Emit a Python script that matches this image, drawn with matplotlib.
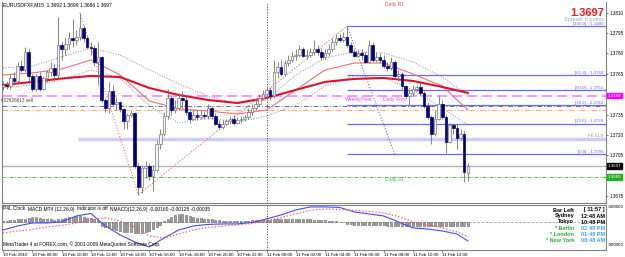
import matplotlib
matplotlib.use('Agg')
import matplotlib.pyplot as plt
import matplotlib.transforms as mtransforms
import numpy as np

plt.rcParams['font.family'] = ['Liberation Sans', 'DejaVu Sans']

# ---------------- data ----------------
symbol = "EURUSDFXF,M15"
opens = [1.3755,1.3757,1.3756,1.3762,1.3760,1.3771,1.3768,1.3781,1.3763,1.3754,
         1.3763,1.3754,1.3762,1.3766,1.3769,1.3764,1.3786,1.3783,1.3787,1.3791,
         1.3790,1.3792,1.3799,1.3791,1.3785,1.3784,1.3774,1.3777,1.3746,1.3740,
         1.3752,1.3743,1.3744,1.3739,1.3730,1.3735,1.3736,1.3697,1.3682,1.3696,
         1.3697,1.3690,1.3694,1.3713,1.3721,1.3734,1.3747,1.3738,1.3740,1.3747,
         1.3746,1.3737,1.3732,1.3735,1.3733,1.3735,1.3734,1.3740,1.3734,1.3728,
         1.3726,1.3728,1.3730,1.3732,1.3729,1.3731,1.3732,1.3733,1.3737,1.3740,
         1.3743,1.3747,1.3750,1.3753,1.3749,1.3766,1.3770,1.3765,1.3773,1.3775,
         1.3778,1.3779,1.3783,1.3778,1.3779,1.3781,1.3783,1.3781,1.3777,1.3780,
         1.3783,1.3788,1.3791,1.3790,1.3792,1.3786,1.3781,1.3778,1.3780,1.3779,
         1.3774,1.3786,1.3775,1.3777,1.3775,1.3771,1.3769,1.3774,1.3763,1.3765,
         1.3756,1.3749,1.3751,1.3754,1.3755,1.3751,1.3741,1.3733,1.3721,1.3732,
         1.3743,1.3733,1.3715,1.3727,1.3725,1.3718,1.3721,1.3692]
highs = [1.3760,1.3760,1.3765,1.3766,1.3774,1.3775,1.3785,1.3783,1.3765,1.3765,
         1.3766,1.3763,1.3768,1.3774,1.3772,1.3807,1.3788,1.3791,1.3796,1.3805,
         1.3797,1.3810,1.3801,1.3793,1.3788,1.3786,1.3788,1.3778,1.3747,1.3759,
         1.3757,1.3748,1.3745,1.3740,1.3736,1.3738,1.3737,1.3699,1.3698,1.3701,
         1.3699,1.3698,1.3716,1.3724,1.3737,1.3754,1.3749,1.3746,1.3751,1.3752,
         1.3749,1.3738,1.3738,1.3738,1.3738,1.3737,1.3743,1.3741,1.3736,1.3731,
         1.3731,1.3732,1.3734,1.3735,1.3733,1.3734,1.3735,1.3740,1.3743,1.3746,
         1.3750,1.3753,1.3756,1.3755,1.3775,1.3774,1.3775,1.3775,1.3779,1.3781,
         1.3783,1.3786,1.3785,1.3783,1.3784,1.3790,1.3786,1.3784,1.3783,1.3787,
         1.3791,1.3794,1.3794,1.3796,1.3800,1.3788,1.3783,1.3783,1.3783,1.3781,
         1.3790,1.3788,1.3781,1.3780,1.3779,1.3774,1.3777,1.3775,1.3768,1.3766,
         1.3757,1.3753,1.3757,1.3757,1.3760,1.3752,1.3744,1.3735,1.3738,1.3749,
         1.3746,1.3735,1.3729,1.3729,1.3728,1.3724,1.3723,1.3699]
lows = [1.3753,1.3754,1.3754,1.3757,1.3759,1.3766,1.3766,1.3760,1.3752,1.3752,
        1.3752,1.3753,1.3759,1.3763,1.3760,1.3762,1.3775,1.3779,1.3783,1.3785,
        1.3786,1.3790,1.3788,1.3783,1.3779,1.3771,1.3757,1.3744,1.3737,1.3736,
        1.3741,1.3738,1.3737,1.3724,1.3724,1.3733,1.3696,1.3676,1.3677,1.3688,
        1.3687,1.3679,1.3693,1.3710,1.3719,1.3732,1.3735,1.3736,1.3738,1.3740,
        1.3735,1.3729,1.3731,1.3731,1.3732,1.3732,1.3732,1.3732,1.3727,1.3724,
        1.3724,1.3727,1.3728,1.3727,1.3728,1.3729,1.3730,1.3732,1.3735,1.3738,
        1.3741,1.3746,1.3747,1.3746,1.3747,1.3762,1.3763,1.3763,1.3771,1.3774,
        1.3775,1.3777,1.3777,1.3776,1.3777,1.3779,1.3779,1.3775,1.3776,1.3778,
        1.3781,1.3786,1.3788,1.3788,1.3785,1.3780,1.3777,1.3777,1.3775,1.3773,
        1.3773,1.3774,1.3774,1.3773,1.3769,1.3767,1.3768,1.3761,1.3760,1.3754,
        1.3747,1.3742,1.3749,1.3752,1.3749,1.3740,1.3732,1.3713,1.3719,1.3731,
        1.3732,1.3707,1.3714,1.3721,1.3710,1.3716,1.3685,1.3686]
closes = [1.3757,1.3756,1.3762,1.3760,1.3771,1.3768,1.3781,1.3763,1.3754,1.3763,
          1.3754,1.3762,1.3766,1.3769,1.3764,1.3786,1.3783,1.3787,1.3791,1.3790,
          1.3792,1.3799,1.3791,1.3785,1.3784,1.3774,1.3777,1.3746,1.3740,1.3752,
          1.3743,1.3744,1.3739,1.3730,1.3735,1.3736,1.3697,1.3682,1.3696,1.3697,
          1.3690,1.3694,1.3713,1.3721,1.3734,1.3747,1.3738,1.3740,1.3747,1.3746,
          1.3737,1.3732,1.3735,1.3733,1.3735,1.3734,1.3740,1.3734,1.3728,1.3726,
          1.3728,1.3730,1.3732,1.3729,1.3731,1.3732,1.3733,1.3737,1.3740,1.3743,
          1.3747,1.3750,1.3753,1.3749,1.3766,1.3770,1.3765,1.3773,1.3775,1.3778,
          1.3779,1.3783,1.3778,1.3779,1.3781,1.3783,1.3781,1.3777,1.3780,1.3783,
          1.3788,1.3791,1.3790,1.3792,1.3786,1.3781,1.3778,1.3780,1.3779,1.3774,
          1.3786,1.3775,1.3777,1.3775,1.3771,1.3769,1.3774,1.3763,1.3765,1.3756,
          1.3749,1.3751,1.3754,1.3755,1.3751,1.3741,1.3733,1.3721,1.3732,1.3743,
          1.3733,1.3715,1.3727,1.3725,1.3718,1.3721,1.3693,1.3697]

# moving averages / bands read at sample bars
ma_bars = [0, 8, 16, 24, 32, 40, 48, 56, 64, 72, 80, 88, 96, 104, 112, 120, 127]
ma_slow = [1.37567,1.37590,1.37615,1.37634,1.37626,1.37545,1.37494,1.37457,1.37435,
           1.37472,1.37531,1.37590,1.37612,1.37619,1.37597,1.37553,1.37509]
ma_fast = [1.37641,1.37656,1.37685,1.37751,1.37641,1.37450,1.37391,1.37376,1.37354,
           1.37383,1.37531,1.37678,1.37729,1.37729,1.37648,1.37560,1.37383]
band_up = [1.37693,1.37707,1.37774,1.37840,1.37788,1.37678,1.37575,1.37486,1.37428,
           1.37457,1.37641,1.37766,1.37810,1.37803,1.37737,1.37626,1.37494]
band_dn = [1.37545,1.37567,1.37604,1.37678,1.37619,1.37413,1.37288,1.37325,1.37295,
           1.37339,1.37420,1.37560,1.37634,1.37619,1.37531,1.37398,1.37273]

# fibonacci
fib_start_bar, fib_end_bar = 94, 107
fib_high, fib_low = 1.3800, 1.3706
fib_ratios = [100.0, 61.8, 50.0, 38.2, 23.6, 0.0]
fe_level, fe_start_bar = 1.3717, 20.5
zigzag_bars = [21, 37, 94]

weekly_pivot = 1.3749
order_price = 1.3741
sl_price = 1.3738
bid_price = 1.3697
daily_s1 = 1.3689

# MACD (units of 1e-5)
macd_bars = [0,4,8,12,16,20,24,28,32,36,40,44,48,52,56,60,64,68,72,76,80,84,88,92,96,100,104,108,112,116,120,124,127]
macd_main = [-69,-36,-11,-11,-2,47,68,-36,-110,-168,-210,-135,-69,-36,-23,-19,-19,-7,22,56,97,122,122,118,80,64,47,-2,-52,-61,-77,-102,-160]
macd_signal = [-94,-77,-65,-44,-32,-11,14,31,6,-44,-119,-135,-102,-69,-48,-36,-27,-15,6,35,64,93,105,101,93,85,72,43,-2,-27,-52,-85,-125]
macd_hist = [8,8,17,17,25,25,25,33,41,41,33,25,25,25,17,25,25,33,41,41,50,50,41,33,33,25,17,
             -33,-41,-50,-58,-66,-75,-83,-83,-83,-91,-91,-91,-83,-75,-58,-41,-25,
             8,25,41,58,66,66,58,50,41,33,33,25,25,25,17,17,8,8,8,8,8,8,8,
             8,17,17,17,17,17,17,25,25,25,25,25,25,25,25,25,25,25,17,17,17,17,8,8,8,0,0,
             -17,-17,-25,-25,-25,-25,-25,-25,-25,-25,-25,-33,-33,-33,-33,-33,-33,-33,-33,-33,
             -33,-33,-33,-33,-33,-33,-33,-33,-33,-33,-33,-33,-33,-35]
MACD_UNIT = 1e-5

time_tick_bars = [0, 8, 16, 24, 32, 40, 48, 56, 64, 72, 80, 88, 96, 104, 112, 120]
time_tick_labels = ["10 Feb 2010", "10 Feb 08:00", "10 Feb 10:00", "10 Feb 12:00", "10 Feb 14:00",
                    "10 Feb 16:00", "10 Feb 18:00", "10 Feb 20:00", "10 Feb 22:00", "11 Feb 00:00",
                    "11 Feb 02:00", "11 Feb 04:00", "11 Feb 06:00", "11 Feb 08:00", "11 Feb 10:00",
                    "11 Feb 12:00"]
price_ticks = [1.3810, 1.3795, 1.3780, 1.3765, 1.3735, 1.3720, 1.3705, 1.3675]
day_sep_bar = 72

clock_names = ["Bar Left", "Sydney", "Tokyo", "* Berlin", "* London", "* New York"]
clock_values = ["[ 11:57 ]", "12:48 AM", "10:48 PM", "02:48 PM", "01:48 PM", "08:48 AM"]

# ---------------- figure ----------------
W, H = 625, 257
fig = plt.figure(figsize=(W/100, H/100), dpi=100)
fig.patch.set_facecolor('white')
def fx(px): return px / W
def fy(py): return 1 - py / H

ax = fig.add_axes([fx(2), fy(203), fx(606) - fx(2), fy(2) - fy(203)])
ax2 = fig.add_axes([fx(2), fy(250), fx(606) - fx(2), fy(205) - fy(250)])

XMIN, XMAX = -0.27, 164.75
n = len(closes)
x = np.arange(n)

# horizontal lines
ax.axhline(weekly_pivot, color='#FF80FF', lw=1.2, dashes=(6, 3), zorder=1)
ax.axhline(order_price, color='#707080', lw=0.7, dashes=(5, 2, 1, 2), zorder=1)
ax.axhline(sl_price, color='#FFA888', lw=0.8, dashes=(5, 2, 1, 2), zorder=1)
ax.axhline(bid_price, color='#B4B4B4', lw=1.0, zorder=1)
ax.axhline(daily_s1, color='#20C020', lw=0.6, dashes=(4, 2, 1, 2), zorder=1)
ax.hlines(fe_level, fe_start_bar, XMAX, color='#CCCCF4', lw=2.5, zorder=1)
for r in fib_ratios:
    lvl = fib_low + (fib_high - fib_low) * r / 100.0
    ax.hlines(lvl, fib_start_bar, XMAX, color='#6A6AE8', lw=0.9, zorder=2)
    ax.text(164.0, lvl + 0.00003, "[%.1f] - %.4f" % (r, lvl), fontsize=3.2,
            color='#6A6AE8', ha='right', va='bottom', zorder=6)
ax.text(164.0, fe_level + 0.0001, "FE 61.8", fontsize=3.2, color='#8888C0',
        ha='right', va='bottom')
ax.plot([fib_start_bar, fib_end_bar], [fib_high, fib_low], color='#6A6AE8', ls=':', lw=0.8)

# MA and bands
ax.plot(ma_bars, band_up, color='#8C8C8C', ls=':', lw=0.7, zorder=3)
ax.plot(ma_bars, band_dn, color='#8C8C8C', ls=':', lw=0.7, zorder=3)
ax.plot(ma_bars, ma_fast, color='#F07070', lw=0.8, zorder=3)
ax.plot(ma_bars, ma_slow, color='#E0102A', lw=1.5, zorder=3)

# zigzag
zz_prices = [highs[zigzag_bars[0]], lows[zigzag_bars[1]], highs[zigzag_bars[2]]]
ax.plot(zigzag_bars, zz_prices, color='#FF6A6A', ls=':', lw=0.8, zorder=3)

# candles
for i in range(n):
    o, h, l, c = opens[i], highs[i], lows[i], closes[i]
    bull = c >= o
    ax.vlines(i, l, h, color='#707070', lw=0.6, zorder=4)
    lo, hi = min(o, c), max(o, c)
    if hi - lo < 0.00002:
        hi = lo + 0.00002
    if bull:
        ax.bar(i, hi - lo, bottom=lo, width=0.72, facecolor='#F4F4F4',
               edgecolor='#7A7A7A', lw=0.5, zorder=5)
    else:
        ax.bar(i, hi - lo, bottom=lo, width=0.72, facecolor='#00007A',
               edgecolor='#00007A', lw=0.5, zorder=5)

ax.axvline(day_sep_bar, color='#404040', ls=':', lw=0.7, zorder=2)

ax.set_xlim(XMIN, XMAX)
ax.set_ylim(1.36699, 1.38178)
ax.yaxis.tick_right()
ax.set_yticks(price_ticks)
ax.set_yticklabels(["%.4f" % p for p in price_ticks])
ax.tick_params(axis='y', labelsize=3.3, length=1.5, width=0.5, color='#404040', pad=1.0)
ax.set_xticks([])
ax.spines['top'].set_visible(False)
for s in ['left', 'right', 'bottom']:
    ax.spines[s].set_color('#808080')
    ax.spines[s].set_linewidth(0.8)

# price label boxes on the axis
trans = mtransforms.blended_transform_factory(ax.transAxes, ax.transData)
for price, bg in [(weekly_pivot, '#FF00FF'), (bid_price, '#000000'), (daily_s1, '#20B020')]:
    ax.text(1.003, price, "%.4f" % price, transform=trans, fontsize=3.2, color='white',
            ha='left', va='center',
            bbox=dict(boxstyle='square,pad=0.2', facecolor=bg, edgecolor=bg), clip_on=False)

# chart texts
fig.text(fx(3), fy(4.5), "%s  %.4f %.4f %.4f %.4f" % (symbol, opens[-1], highs[-1], lows[-1], closes[-1]),
         fontsize=3.6, color='#000000', va='center', ha='left')
fig.text(fx(604), fy(12.5), "%.4f" % closes[-1], fontsize=8, color='#F01818', fontweight='bold',
         ha='right', va='center')
fig.text(fx(604), fy(19.8), "Spread: 0 points", fontsize=4.0, color='#8FAEDC', ha='right', va='center')
fig.text(fx(385), fy(4.5), "Daily R1", fontsize=3.6, color='#FF4040', ha='left', va='center')
fig.text(fx(385), fy(179.5), "Daily S1", fontsize=3.6, color='#40C040', ha='left', va='center')
fig.text(fx(345), fy(99), "WeeklyPivot", fontsize=3.6, color='#FF40FF', ha='left', va='center')
fig.text(fx(383), fy(99), "Daily Pivot", fontsize=3.6, color='#FF40FF', ha='left', va='center')
fig.text(fx(1), fy(100.5), "#22626613 sell", fontsize=3.3, color='#404040', ha='left', va='center')

# ---------------- indicator ----------------
ax2.axhline(0, color='#A0A0A0', lw=0.6, dashes=(3, 2), zorder=1)
ax2.bar(x, np.array(macd_hist) * MACD_UNIT, width=0.55, facecolor='#A0A0A0',
        edgecolor='#606060', lw=0.4, zorder=2)
ax2.plot(macd_bars, np.array(macd_main) * MACD_UNIT, color='#4848FF', lw=0.8, zorder=3)
ax2.plot(macd_bars, np.array(macd_signal) * MACD_UNIT, color='#FF5050', ls=':', lw=0.9, zorder=3)
ax2.axvline(day_sep_bar, color='#404040', ls=':', lw=0.7, zorder=2)
ax2.set_xlim(XMIN, XMAX)
ax2.set_ylim(-0.00235, 0.00138)
ax2.set_yticks([])
ax2.set_xticks(time_tick_bars)
ax2.set_xticklabels(time_tick_labels, ha='left')
ax2.tick_params(axis='x', labelsize=3.2, length=1.5, width=0.5, pad=0.8, color='#404040')
for s in ['top', 'left', 'right', 'bottom']:
    ax2.spines[s].set_color('#808080')
    ax2.spines[s].set_linewidth(0.8)

fig.text(fx(3), fy(209), "P4L Clock", fontsize=3.5, color='#000000', va='center')
fig.text(fx(28), fy(209), "MACD MT4 (12,26,9)", fontsize=3.5, color='#000000', va='center')
fig.text(fx(77), fy(209), "Indicator is off", fontsize=3.5, color='#000000', va='center')
fig.text(fx(110), fy(209), "NMACD(12,26,9) %.5f %.5f %.5f" % (macd_main[-1] * MACD_UNIT,
         macd_signal[-1] * MACD_UNIT, macd_hist[-1] * MACD_UNIT),
         fontsize=3.5, color='#000000', va='center')
fig.text(fx(3), fy(244), "MetaTrader 4 at FOREX.com, \u00a9 2001-2009 MetaQuotes Software Corp.",
         fontsize=3.5, color='#000000', va='center')
fig.text(fx(608), fy(206.5), "-900000", fontsize=3.2, color='#000000', va='center')
fig.text(fx(608), fy(245), "-900000", fontsize=3.2, color='#000000', va='center')

name_colors = ['#000000', '#000000', '#000000', '#30B030', '#30B030', '#30B030']
val_colors = ['#000000', '#000000', '#000000', '#40A0F0', '#40A0F0', '#40A0F0']
for k, (nm, vl) in enumerate(zip(clock_names, clock_values)):
    yy = 210 + 6 * k
    fig.text(fx(574), fy(yy), nm, fontsize=4.0, fontweight='bold', color=name_colors[k],
             ha='right', va='center')
    fig.text(fx(605), fy(yy), vl, fontsize=4.0, fontweight='bold', color=val_colors[k],
             ha='right', va='center')

fig.savefig('out.png', dpi=100)
